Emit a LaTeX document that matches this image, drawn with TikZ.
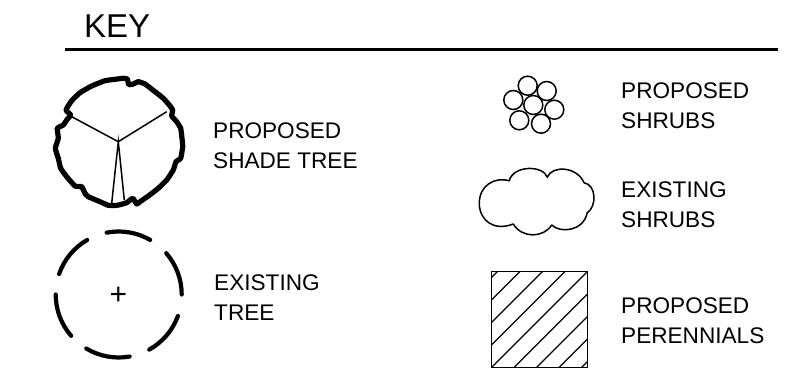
\documentclass[tikz,border=0pt]{standalone}
\usepackage{fontspec}
\setmainfont{Liberation Sans}
\begin{document}
\begin{tikzpicture}[
    x=1pt,y=1pt,
    label/.style={font=\fontsize{22.6}{30}\selectfont,align=left,anchor=west,inner sep=0pt,text=black},
    title/.style={font=\fontsize{33}{33}\selectfont,anchor=base west,inner sep=0pt,text=black},
    thin line/.style={draw=black,line width=1.5pt},
    hatch line/.style={draw=black,line width=1.3pt},
    thick outline/.style={draw=black,line width=5.2pt,line join=round},
    dash arc/.style={draw=black,line width=4.2pt,line cap=round}
  ]
    \useasboundingbox (0,0) rectangle (796,391);
    \node[title] (keytitle) at (84,353) {KEY};
    \coordinate (ruleleft) at (65,341);
    \coordinate (ruleright) at (778,341);
    \draw[black,line width=3pt] (ruleleft) -- (ruleright);
    \draw[thick outline] plot[smooth cycle,tension=0.25] coordinates {
      (123.3,312.7) (127.3,312) (128.7,306.3) (133.3,307) (138.3,309.3) (145,307)
      (155,299.3) (163.3,292.7) (169.3,286) (172.7,281) (171.7,275) (176.7,269.3)
      (180.7,262.7) (182,252.7) (182.7,244.3) (180.7,232.7) (176,229.3) (173.3,221)
      (166.7,211) (158.3,202.7) (148.3,195) (140,189.3) (136.7,187) (132.7,192.7)
      (126.7,188.3) (117.3,185.7) (108.3,185.7) (100,189.3) (88.3,194.3) (85,197.7)
      (81.7,204.3) (75,205) (66.7,214.3) (60.7,222.7) (58.3,232.7) (55.3,242.7)
      (58.3,252.7) (57.3,262.7) (63.3,266) (66.7,271) (70.7,276) (66,281)
      (71.7,290.3) (80,298.3) (91.7,305) (105,310.3) (115,311.7)};
    \coordinate (hub) at (118.3,249.3);
    \draw[thin line] (71.7,274.3) -- (hub) -- (166.7,279.3);
    \draw[thin line] (111.7,187.7) -- (hub) -- (124.3,191);
    \node[label] (shadetree) at (213,245) {PROPOSED\\SHADE TREE};
    \foreach \a in {101,41,-20,-80,-139,-199}
      \draw[dash arc] (118.7,96.5) ++(\a:63) arc[start angle=\a,delta angle=-41,radius=63pt];
    \node[font=\fontsize{30}{30}\selectfont,inner sep=0pt] (existingcentre) at (118.3,95.3) {+};
    \node[label] (existingtree) at (214,93) {EXISTING\\TREE};
    \foreach \x/\y in {527.7/305.3,546.7/300,513.3/291,533.3/286,554.3/281.3,519.3/270.7,541/267.3}
      \draw[thin line] (\x,\y) circle[radius=9.5pt];
    \node[label] (proposedshrubs) at (621,285) {PROPOSED\\SHRUBS};
    \draw[thin line,line join=round] (509.3,210.3)
      .. controls (513.3,226) and (543.3,226) .. (547.3,213.7)
      .. controls (551.7,225.7) and (576.7,225) .. (584,208.3)
      .. controls (596.7,206) and (596.7,184.3) .. (587.3,178.3)
      .. controls (583.3,159.3) and (560,157.7) .. (551.7,166)
      .. controls (543.3,152.7) and (521.7,152.7) .. (513.3,167)
      .. controls (493.3,159.3) and (479.3,171) .. (479.3,187.7)
      .. controls (479.3,206) and (495,214.3) .. (509.3,210.3) -- cycle;
    \node[label] (existingshrubs) at (621,186) {EXISTING\\SHRUBS};
    \begin{scope}
      \clip (491.7,23.7) rectangle (587.3,119.3);
      \foreach \k in {-4,...,4}
        \draw[hatch line] (491.7+\k*22.5,23.7) -- ++(95.6,95.6);
    \end{scope}
    \draw[thin line] (491.7,23.7) rectangle (587.3,119.3);
    \node[label] (perennials) at (621,70) {PROPOSED\\PERENNIALS};
  \end{tikzpicture}
\end{document}
